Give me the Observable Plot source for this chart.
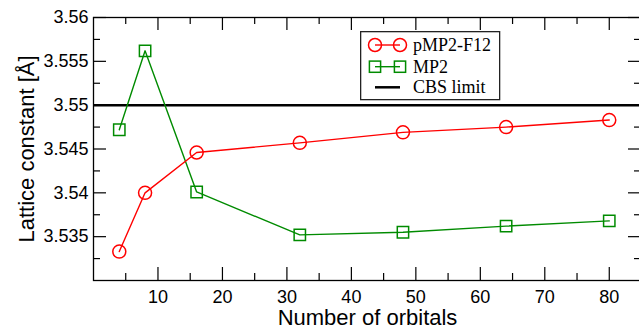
<!DOCTYPE html>
<html>
<head>
<meta charset="utf-8">
<script src="https://cdn.jsdelivr.net/npm/d3@7"></script>
<script src="https://cdn.jsdelivr.net/npm/@observablehq/plot@0.6"></script>
<style>
  html, body { margin: 0; padding: 0; background: #fff; overflow: hidden; }
  #wrap { position: relative; width: 639px; height: 326px; overflow: hidden; }
  #legend { position: absolute; left: 360px; top: 31px; }
</style>
</head>
<body>
<div id="wrap"></div>
<script>
// ---- data ----
const orbitals = [4, 8, 16, 32, 48, 64, 80];
const pmp2f12 = [3.5333, 3.5400, 3.5446, 3.5457, 3.5469, 3.5475, 3.5483];
const mp2 = [3.5472, 3.5562, 3.5401, 3.5352, 3.5355, 3.5362, 3.5368];
const cbsLimit = 3.55;
const seriesNames = ["pMP2-F12", "MP2", "CBS limit"];
const xMajor = [10, 20, 30, 40, 50, 60, 70, 80];
const xMinor = [5, 15, 25, 35, 45, 55, 65, 75];
const yMajor = [3.535, 3.54, 3.545, 3.55, 3.555, 3.56];
const yMinor = [3.5325, 3.5375, 3.5425, 3.5475, 3.5525, 3.5575];
const xLabel = "Number of orbitals";
const yLabel = "Lattice constant [Å]";

// ---- styling ----
const RED = "#ff0000", GREEN = "#008b00";
const W = 639, H = 326, mL = 93, mR = -2, mT = 17, mB = 46;
const pw = W - mL - mR, ph = H - mT - mB;
const MAJ = 13, MIN = 7;

const redRows = orbitals.map((x, i) => ({x, y: pmp2f12[i]}));
const greenRows = orbitals.map((x, i) => ({x, y: mp2[i]}));

const chart = Plot.plot({
  width: W, height: H,
  marginLeft: mL, marginRight: mR, marginTop: mT, marginBottom: mB,
  style: {fontFamily: "'Liberation Sans', Arial, sans-serif", background: "#fff", overflow: "hidden"},
  x: {domain: [0, 85]},
  y: {domain: [3.53, 3.56]},
  marks: [
    Plot.ruleY([cbsLimit], {y: d => d, stroke: "black", strokeWidth: 2.5}),
    Plot.line(greenRows, {x: "x", y: "y", stroke: GREEN, strokeWidth: 1.4}),
    Plot.dot(greenRows, {x: "x", y: "y", symbol: "square", r: 6.4, stroke: GREEN, fill: "none", strokeWidth: 1.5}),
    Plot.line(redRows, {x: "x", y: "y", stroke: RED, strokeWidth: 1.4}),
    Plot.dot(redRows, {x: "x", y: "y", symbol: "circle", r: 6.5, stroke: RED, fill: "none", strokeWidth: 1.5}),
    // inward ticks, all four sides
    Plot.tickX(xMajor, {x: d => d, insetTop: ph - MAJ, stroke: "black", strokeWidth: 1.2}),
    Plot.tickX(xMinor, {x: d => d, insetTop: ph - MIN, stroke: "black", strokeWidth: 1.2}),
    Plot.tickX(xMajor, {x: d => d, insetBottom: ph - MAJ, stroke: "black", strokeWidth: 1.2}),
    Plot.tickX(xMinor, {x: d => d, insetBottom: ph - MIN, stroke: "black", strokeWidth: 1.2}),
    Plot.tickY(yMajor, {y: d => d, insetRight: pw - MAJ, stroke: "black", strokeWidth: 1.2}),
    Plot.tickY(yMinor, {y: d => d, insetRight: pw - MIN, stroke: "black", strokeWidth: 1.2}),
    Plot.tickY(yMajor, {y: d => d, insetLeft: pw - MAJ, stroke: "black", strokeWidth: 1.2}),
    Plot.tickY(yMinor, {y: d => d, insetLeft: pw - MIN, stroke: "black", strokeWidth: 1.2}),
    Plot.frame({stroke: "black", strokeWidth: 1.3}),
    Plot.axisX(xMajor, {tickSize: 0, tickPadding: 10, fontSize: 18, label: null, fill: "black"}),
    Plot.axisY(yMajor, {tickSize: 0, tickPadding: 5, fontSize: 18, label: null, fill: "black",
      tickFormat: d => String(+d.toFixed(3))}),
    Plot.text([xLabel], {text: d => d, frameAnchor: "bottom", dy: 37, textAnchor: "middle", lineAnchor: "middle", fontSize: 22, fill: "black"}),
    Plot.text([yLabel], {text: d => d, frameAnchor: "left", dx: -67, rotate: -90, textAnchor: "middle", lineAnchor: "middle", fontSize: 22, fill: "black"})
  ]
});
const wrap = document.getElementById("wrap");
wrap.appendChild(chart);

// legend box inside the plot
const lg = d3.create("svg").attr("id", "legend").attr("width", 141).attr("height", 70);
lg.append("rect").attr("x", 0.65).attr("y", 0.65).attr("width", 139).attr("height", 68)
  .attr("fill", "#fff").attr("stroke", "#222").attr("stroke-width", 1.3);
const rowsY = [14, 35.7, 56.3];
const sym = [
  {color: RED, shape: "circle"},
  {color: GREEN, shape: "square"},
  {color: "black", shape: null}
];
seriesNames.forEach((name, i) => {
  const g = lg.append("g").attr("transform", `translate(0,${rowsY[i]})`);
  const s = sym[i];
  if (s.shape) {
    g.append("line").attr("x1", 15).attr("x2", 40).attr("stroke", s.color).attr("stroke-width", 1.4);
    [15, 40].forEach(cx => {
      if (s.shape === "circle") g.append("circle").attr("cx", cx).attr("r", 6.5).attr("fill", "none").attr("stroke", s.color).attr("stroke-width", 1.5);
      else g.append("rect").attr("x", cx - 5.6).attr("y", -5.6).attr("width", 11.2).attr("height", 11.2).attr("fill", "none").attr("stroke", s.color).attr("stroke-width", 1.5);
    });
  } else {
    g.append("line").attr("x1", 15).attr("x2", 40).attr("stroke", "black").attr("stroke-width", 2.5);
  }
  g.append("text").attr("x", 53).attr("y", 6).attr("font-family", "'Liberation Serif', 'Times New Roman', serif")
    .attr("font-size", 18).attr("fill", "black").text(name);
});
wrap.appendChild(lg.node());
</script>
</body>
</html>
